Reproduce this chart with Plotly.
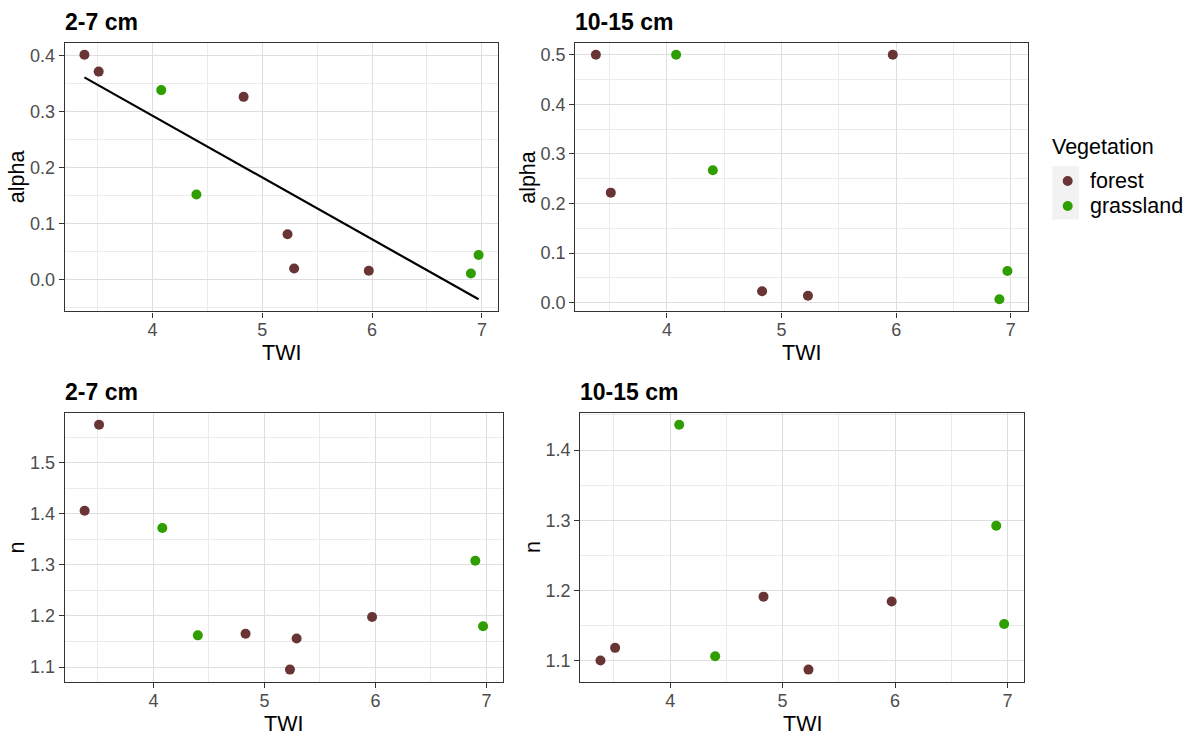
import numpy as np
import plotly.graph_objects as go

# Site data: topographic wetness index and fitted van Genuchten parameters
twi = [3.38, 3.51, 4.08, 4.40, 4.83, 5.23, 5.29, 5.97, 6.90, 6.97]
vegetation = ["forest", "forest", "grassland", "grassland", "forest",
              "forest", "forest", "forest", "grassland", "grassland"]
alpha_2_7 = [0.401, 0.371, 0.338, 0.152, 0.326, 0.081, 0.020, 0.016, 0.011, 0.044]
alpha_10_15 = [0.500, 0.222, 0.500, 0.267, 0.023, 0.014, None, 0.500, 0.007, 0.064]
n_2_7 = [1.406, 1.574, 1.372, 1.162, 1.165, 1.095, 1.156, 1.198, 1.308, 1.180]
n_10_15 = [1.100, 1.118, 1.436, 1.106, 1.191, 1.087, None, 1.184, 1.292, 1.152]

depth_titles = ["2-7 cm", "10-15 cm", "2-7 cm", "10-15 cm"]
y_titles = ["alpha", "alpha", "n", "n"]
x_title = "TWI"
legend_title = "Vegetation"
veg_levels = ["forest", "grassland"]
veg_colors = {"forest": "#693434", "grassland": "#2E9E00"}

W, H = 1196, 738
FONT = "Liberation Sans, Arial, sans-serif"

# panel boxes in pixels: (left, top, right, bottom)
boxes = [(64.7, 42.7, 498.3, 312.3),
         (575.3, 42.7, 1028.0, 312.3),
         (64.7, 413.7, 503.0, 683.7),
         (580.3, 413.7, 1024.3, 683.7)]
series = [alpha_2_7, alpha_10_15, n_2_7, n_10_15]


def px(x):
    return x / W


def py(y):
    return 1 - y / H


def expand(vals):
    lo, hi = min(vals), max(vals)
    pad = 0.05 * (hi - lo)
    return [lo - pad, hi + pad]


# linear fit for alpha at 2-7 cm
fit_x = np.array(twi, dtype=float)
fit_y = np.array(alpha_2_7, dtype=float)
slope, intercept = np.polyfit(fit_x, fit_y, 1)
line_x = np.array([fit_x.min(), fit_x.max()])
line_y = intercept + slope * line_x

fig = go.Figure()
layout_axes = {}
annotations = []

for i, (box, yvals) in enumerate(zip(boxes, series)):
    k = "" if i == 0 else str(i + 1)
    xa, ya = "x" + k, "y" + k
    left, top, right, bottom = box

    pts = [(x, y, v) for x, y, v in zip(twi, yvals, vegetation) if y is not None]
    for level in veg_levels:
        sel = [p for p in pts if p[2] == level]
        fig.add_trace(go.Scatter(
            x=[p[0] for p in sel], y=[p[1] for p in sel],
            mode="markers", name=level, showlegend=False,
            xaxis=xa, yaxis=ya,
            marker=dict(size=10, color=veg_colors[level], line=dict(width=0)),
        ))

    yrange_vals = [p[1] for p in pts]
    if i == 0:
        fig.add_trace(go.Scatter(
            x=line_x, y=line_y, mode="lines", showlegend=False,
            xaxis=xa, yaxis=ya, line=dict(color="black", width=2.2),
        ))
        yrange_vals += list(line_y)

    common = dict(
        showline=True, linecolor="#333333", linewidth=1.3, mirror=True,
        ticks="outside", ticklen=5, tickwidth=1.3, tickcolor="#333333",
        showgrid=True, gridcolor="#DEDEDE", gridwidth=1.3, zeroline=False,
        tickfont=dict(family=FONT, size=18, color="#4D4D4D"),
    )
    layout_axes["xaxis" + k] = dict(
        common, domain=[px(left), px(right)], anchor=ya,
        range=expand(twi), tick0=0, dtick=1, ticklabelstandoff=-3,
        minor=dict(showgrid=True, gridcolor="#EBEBEB", gridwidth=1, dtick=0.5, tick0=0),
    )
    layout_axes["yaxis" + k] = dict(
        common, domain=[py(bottom), py(top)], anchor=xa,
        range=expand(yrange_vals), tick0=0, dtick=0.1, tickformat=".1f",
        minor=dict(showgrid=True, gridcolor="#EBEBEB", gridwidth=1, dtick=0.05, tick0=0),
    )

    # panel title
    annotations.append(dict(
        text="<b>%s</b>" % depth_titles[i], xref="paper", yref="paper",
        x=px(left - 2), y=py(top - 20.5), xanchor="left", yanchor="middle",
        showarrow=False, font=dict(family=FONT, size=23, color="black"),
    ))
    # x title
    annotations.append(dict(
        text=x_title, xref="paper", yref="paper",
        x=px((left + right) / 2), y=py(bottom + 42), xanchor="center", yanchor="middle",
        showarrow=False, font=dict(family=FONT, size=21.5, color="black"),
    ))
    # y title
    annotations.append(dict(
        text=y_titles[i], xref="paper", yref="paper", textangle=-90,
        x=px(left - 47.5), y=py((top + bottom) / 2), xanchor="center", yanchor="middle",
        showarrow=False, font=dict(family=FONT, size=21.5, color="black"),
    ))

# legend: title, grey key background, coloured keys and labels
shapes = [dict(type="rect", xref="paper", yref="paper",
               x0=px(1052.3), x1=px(1079.0), y0=py(220.0), y1=py(166.7),
               fillcolor="#F2F2F2", line=dict(width=0), layer="below")]
annotations.append(dict(
    text=legend_title, xref="paper", yref="paper",
    x=px(1050), y=py(147.5), xanchor="left", yanchor="middle",
    showarrow=False, font=dict(family=FONT, size=21.5, color="black"),
))
key_y = [181.5, 206.5]
for level, ky in zip(veg_levels, key_y):
    r = 5
    shapes.append(dict(type="circle", xref="paper", yref="paper",
                       x0=px(1067.7 - r), x1=px(1067.7 + r),
                       y0=py(ky + r), y1=py(ky - r),
                       fillcolor=veg_colors[level], line=dict(width=0)))
    annotations.append(dict(
        text=level, xref="paper", yref="paper",
        x=px(1088), y=py(ky), xanchor="left", yanchor="middle",
        showarrow=False, font=dict(family=FONT, size=21.5, color="black"),
    ))

fig.update_layout(
    width=W, height=H, margin=dict(l=0, r=0, t=0, b=0),
    paper_bgcolor="white", plot_bgcolor="white",
    font=dict(family=FONT, color="black"),
    annotations=annotations, shapes=shapes, showlegend=False,
    **layout_axes,
)

fig.write_html("out.html")
